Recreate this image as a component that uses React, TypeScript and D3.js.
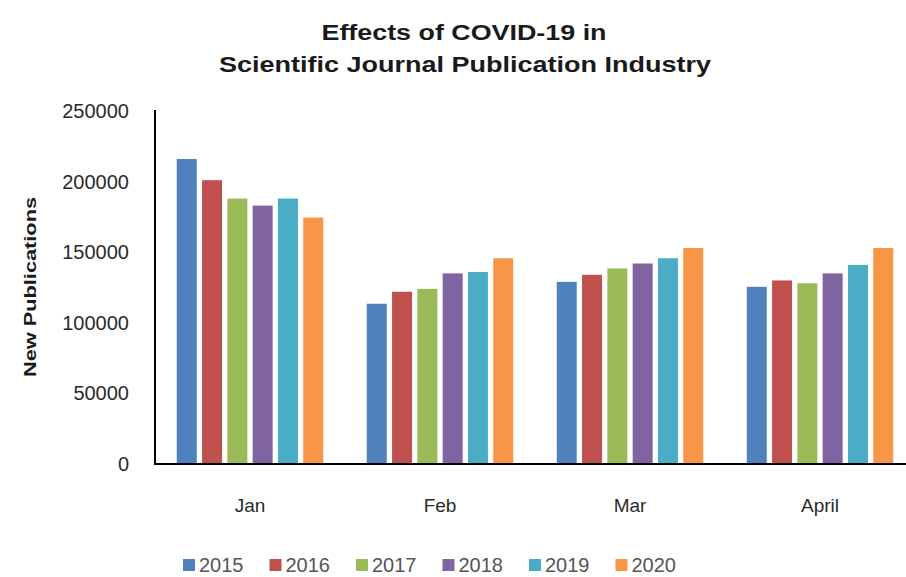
import React from "react";
import * as d3 from "d3";

const months = ["Jan", "Feb", "Mar", "April"];
const years = ["2015", "2016", "2017", "2018", "2019", "2020"];
const v2015 = [216000, 113500, 129000, 125500];
const v2016 = [201000, 122000, 134000, 130000];
const v2017 = [188000, 124000, 138500, 128000];
const v2018 = [183000, 135000, 142000, 135000];
const v2019 = [188000, 136000, 145700, 141000];
const v2020 = [174500, 145700, 153000, 153000];
const yTicks = [0, 50000, 100000, 150000, 200000, 250000];
const colors = ["#4F81BD", "#C0504D", "#9BBB59", "#8064A2", "#4BACC6", "#F79646"];

const series = [v2015, v2016, v2017, v2018, v2019, v2020];

export default function App() {
  const W = 906, H = 577;
  const left = 155, right = 915, top = 111, bottom = 464;
  const x0 = d3.scaleBand<string>().domain(months).range([left, right]).padding(0);
  const x1 = d3.scaleBand<string>().domain(years).range([0, x0.bandwidth()])
    .paddingInner(0.21).paddingOuter(0.86);
  const y = d3.scaleLinear().domain([0, 250000]).range([bottom, top]);
  const font = "'Liberation Sans', Arial, sans-serif";

  return (
    <svg width={W} height={H} style={{ display: "block", position: "absolute", left: 0, top: 0, background: "#fff" }}>
      <rect x={0} y={0} width={W} height={H} fill="#fff" />
      <text x={464} y={40} textAnchor="middle" fontFamily={font} fontWeight="bold" fontSize={22}
        fill="#1a1a1a" textLength={285} lengthAdjust="spacingAndGlyphs">Effects of COVID-19 in</text>
      <text x={465} y={72} textAnchor="middle" fontFamily={font} fontWeight="bold" fontSize={22}
        fill="#1a1a1a" textLength={492} lengthAdjust="spacingAndGlyphs">Scientific Journal Publication Industry</text>

      <text transform="translate(36,287) rotate(-90)" textAnchor="middle" fontFamily={font}
        fontWeight="bold" fontSize={17} fill="#1a1a1a" textLength={180} lengthAdjust="spacingAndGlyphs">New Publications</text>

      {yTicks.map((t) => (
        <text key={t} x={129} y={y(t)} dy="0.35em" textAnchor="end" fontFamily={font} fontSize={20} fill="#2a2a2a">
          {t}
        </text>
      ))}

      {months.map((m, i) => (
        <g key={m} transform={`translate(${x0(m)},0)`}>
          {series.map((s, j) => (
            <rect key={j} x={x1(years[j])} y={y(s[i])} width={x1.bandwidth()} height={y(0) - y(s[i])}
              fill={colors[j]} />
          ))}
        </g>
      ))}

      <line x1={155} x2={155} y1={110} y2={464} stroke="#000" strokeWidth={2} />
      <line x1={154} x2={W} y1={464} y2={464} stroke="#000" strokeWidth={2} />

      {months.map((m) => (
        <text key={m} x={(x0(m) as number) + x0.bandwidth() / 2} y={512} textAnchor="middle"
          fontFamily={font} fontSize={19} fill="#2a2a2a">{m}</text>
      ))}

      {years.map((yr, j) => (
        <g key={yr} transform={`translate(${183 + j * 86.5},0)`}>
          <rect x={0} y={559} width={12} height={12} fill={colors[j]} />
          <text x={16} y={572} fontFamily={font} fontSize={20} fill="#555">{yr}</text>
        </g>
      ))}
    </svg>
  );
}
